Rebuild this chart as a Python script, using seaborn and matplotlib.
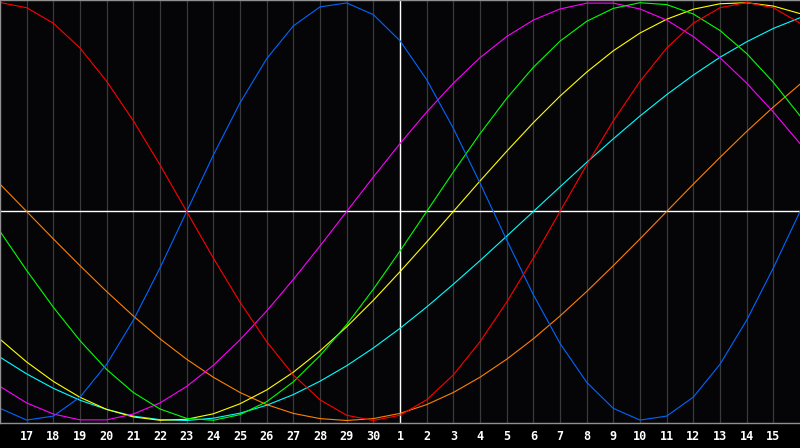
import numpy as np
import pandas as pd
import matplotlib
matplotlib.use("Agg")
import matplotlib.pyplot as plt
import seaborn as sns

# day slots: 0 = 16th of previous month ... 30 = 16th of this month
days = list(range(31))
day_labels = [str(d) for d in range(17, 31)] + [str(d) for d in range(1, 16)]

# curve values read at each day slot (-1 .. 1)
physical = [-0.942, -0.998, -0.979, -0.888, -0.731, -0.520, -0.270, 0.0, 0.270, 0.520,
            0.731, 0.888, 0.979, 0.998, 0.942, 0.817, 0.631, 0.398, 0.136, -0.136,
            -0.398, -0.631, -0.817, -0.942, -0.998, -0.979, -0.888, -0.731, -0.520, -0.270, 0.0]
emotional = [1.0, 0.975, 0.901, 0.782, 0.623, 0.434, 0.223, 0.0, -0.223, -0.434,
             -0.623, -0.782, -0.901, -0.975, -1.0, -0.975, -0.901, -0.782, -0.623, -0.434,
             -0.223, 0.0, 0.223, 0.434, 0.623, 0.782, 0.901, 0.975, 1.0, 0.975, 0.901]
intellectual = [-0.095, -0.282, -0.458, -0.618, -0.756, -0.866, -0.945, -0.990, -0.999, -0.972,
                -0.910, -0.815, -0.690, -0.541, -0.372, -0.189, 0.0, 0.189, 0.372, 0.541,
                0.690, 0.815, 0.910, 0.972, 0.999, 0.990, 0.945, 0.866, 0.756, 0.618, 0.458]
intuitive = [-0.837, -0.916, -0.969, -0.997, -0.997, -0.969, -0.916, -0.837, -0.736, -0.614,
             -0.476, -0.325, -0.165, 0.0, 0.165, 0.325, 0.476, 0.614, 0.736, 0.837,
             0.916, 0.969, 0.997, 0.997, 0.969, 0.916, 0.837, 0.736, 0.614, 0.476, 0.325]
aesthetic = [-0.611, -0.720, -0.813, -0.889, -0.947, -0.983, -0.999, -0.994, -0.968, -0.920,
             -0.854, -0.769, -0.667, -0.552, -0.425, -0.288, -0.146, 0.0, 0.146, 0.288,
             0.425, 0.552, 0.667, 0.769, 0.854, 0.920, 0.968, 0.994, 0.999, 0.983, 0.947]
spiritual = [0.131, 0.0, -0.131, -0.259, -0.383, -0.5, -0.609, -0.707, -0.793, -0.866,
             -0.924, -0.966, -0.991, -1.0, -0.991, -0.966, -0.924, -0.866, -0.793, -0.707,
             -0.609, -0.5, -0.383, -0.259, -0.131, 0.0, 0.131, 0.259, 0.383, 0.5, 0.609]
awareness = [-0.697, -0.777, -0.846, -0.903, -0.947, -0.979, -0.996, -1.0, -0.989, -0.965,
             -0.927, -0.876, -0.812, -0.738, -0.653, -0.559, -0.457, -0.348, -0.235, -0.118,
             0.0, 0.118, 0.235, 0.348, 0.457, 0.559, 0.653, 0.738, 0.812, 0.876, 0.927]

series = {
    "awareness": awareness,
    "spiritual": spiritual,
    "aesthetic": aesthetic,
    "intuitive": intuitive,
    "intellectual": intellectual,
    "physical": physical,
    "emotional": emotional,
}
colors = {
    "awareness": "#00ffff",
    "spiritual": "#ff8000",
    "aesthetic": "#ffff00",
    "intuitive": "#ff00ff",
    "intellectual": "#00ff00",
    "physical": "#0066ff",
    "emotional": "#ff0000",
}

df = pd.DataFrame({"day": days, **series}).melt(id_vars="day", var_name="cycle", value_name="value")

fig = plt.figure(figsize=(8, 4.48), dpi=100, facecolor="black")
ax = fig.add_axes([0, 25 / 448, 1, 423 / 448])
ax.set_facecolor("#050508")

sns.lineplot(data=df, x="day", y="value", hue="cycle", palette=colors,
             hue_order=list(series.keys()), linewidth=0.8, legend=False, ax=ax)

ax.set_xlim(0, 30)
ax.set_ylim(-1.012, 1.012)
ax.set_xticks(range(1, 30))
ax.set_xticklabels(day_labels, fontfamily="DejaVu Sans Mono", fontweight="bold", fontsize=8.5)
ax.set_yticks([])
ax.tick_params(axis="x", length=0, colors="white", pad=5)
ax.grid(axis="x", color="#3a3a3a", linewidth=0.9)
ax.set_axisbelow(True)
ax.axhline(0, color="white", linewidth=1.0, zorder=1.5)
ax.axvline(15, color="white", linewidth=1.0, zorder=1.5)

for side in ["top", "left", "bottom"]:
    ax.spines[side].set_color("#909090")
    ax.spines[side].set_linewidth(1.0)
ax.spines["right"].set_visible(False)
ax.set_xlabel("")
ax.set_ylabel("")

fig.savefig("out.png", dpi=100, facecolor="black")
